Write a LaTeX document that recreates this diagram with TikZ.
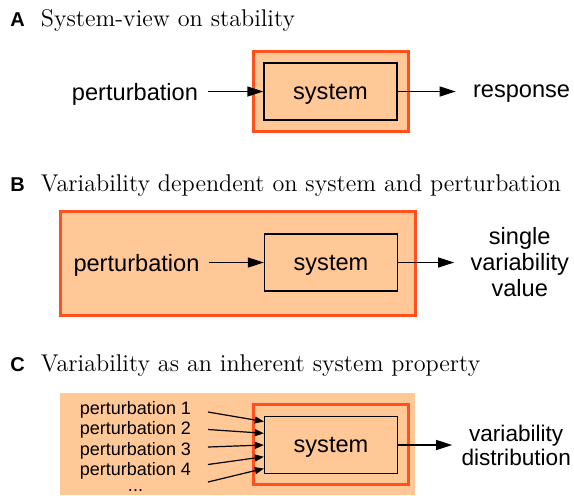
\documentclass[tikz,border=0pt]{standalone}
\usepackage{fontspec}
\usepackage{xcolor}
\usetikzlibrary{positioning,arrows.meta}
\newfontfamily\labelfont{Liberation Sans}
\definecolor{peach}{RGB}{255,200,150}
\definecolor{redorange}{RGB}{255,80,30}

\begin{document}
\begin{tikzpicture}[x=0.5pt,y=-0.5pt,>={Triangle[length=8pt,width=5pt]},
  frame/.style={draw=redorange,line width=1.5pt,fill=peach},
  sys node/.style={draw,line width=0.65pt,inner sep=0pt,text depth=0pt,minimum width=66.5pt,minimum height=28.5pt,font=\labelfont\fontsize{11.8}{14}\selectfont},
  label node/.style={font=\labelfont\fontsize{11.8}{13}\selectfont,align=center,inner sep=0pt},
  small node/.style={font=\labelfont\fontsize{9}{10}\selectfont,inner sep=0pt},
  title node/.style={anchor=base west,inner sep=0pt,font=\fontsize{12.1}{14}\selectfont},
  flow/.style={->,line width=0.65pt},
  small flow/.style={-{Triangle[length=4.5pt,width=3.5pt]},line width=0.6pt}]
  \useasboundingbox (0,0) rectangle (574,495);

  % A
  \node[title node] (titleA) at (10,26) {{\labelfont\fontsize{10}{12}\selectfont\bfseries A}\hspace{8pt}System-view on stability};
  \draw[frame] (253,51) rectangle (408,131);
  \node[sys node] (sysA) at (330.5,91.5) {system};
  \node[label node,text depth=0pt] (pertA) [left=32.5pt of sysA] {perturbation};
  \node[label node,text depth=0pt] (respA) [right=37.5pt of sysA] {response};
  \draw[flow] ([xshift=5pt]pertA.east) -- (sysA.west);
  \draw[flow] (sysA.east) -- ([xshift=-8.5pt]respA.west);

  % B
  \node[title node] (titleB) at (10,191) {{\labelfont\fontsize{10}{12}\selectfont\bfseries B}\hspace{8pt}Variability dependent on system and perturbation};
  \draw[frame] (60,211) rectangle (415,315);
  \node[sys node] (sysB) at (331,262.5) {system};
  \node[label node,text depth=0pt] (pertB) [left=32pt of sysB] {perturbation};
  \node[label node] (valB) [right=36pt of sysB] {single\\variability\\value};
  \draw[flow] ([xshift=4.5pt]pertB.east) -- (sysB.west);
  \draw[flow] (sysB.east) -- ([xshift=-8pt]valB.west);

  % C
  \node[title node] (titleC) at (10,371) {{\labelfont\fontsize{10}{12}\selectfont\bfseries C}\hspace{8pt}Variability as an inherent system property};
  \fill[peach] (60,393) rectangle (415,495);
  \draw[frame] (253,404) rectangle (408,484);
  \node[sys node] (sysC) at (331,445) {system};
  \foreach \k in {1,...,4}
    \node[small node,anchor=base] (p\k) at (135.5,{393.5+20.5*\k}) {perturbation \k};
  \node[small node,anchor=base] (p5) at (135.5,491) {...};
  \node[label node,font=\labelfont\fontsize{11.3}{12}\selectfont] (distC) [right=31.5pt of sysC] {variability\\distribution};
  \foreach \k in {1,...,5} {
    \coordinate (in\k) at (208,{447+17.5*(\k-3)});
    \draw[small flow] (in\k) -- ([yshift={-5.875pt*(\k-3)}]sysC.west);
  }
  \draw[flow] (sysC.east) -- ([xshift=-4.5pt]distC.west);
\end{tikzpicture}
\end{document}
